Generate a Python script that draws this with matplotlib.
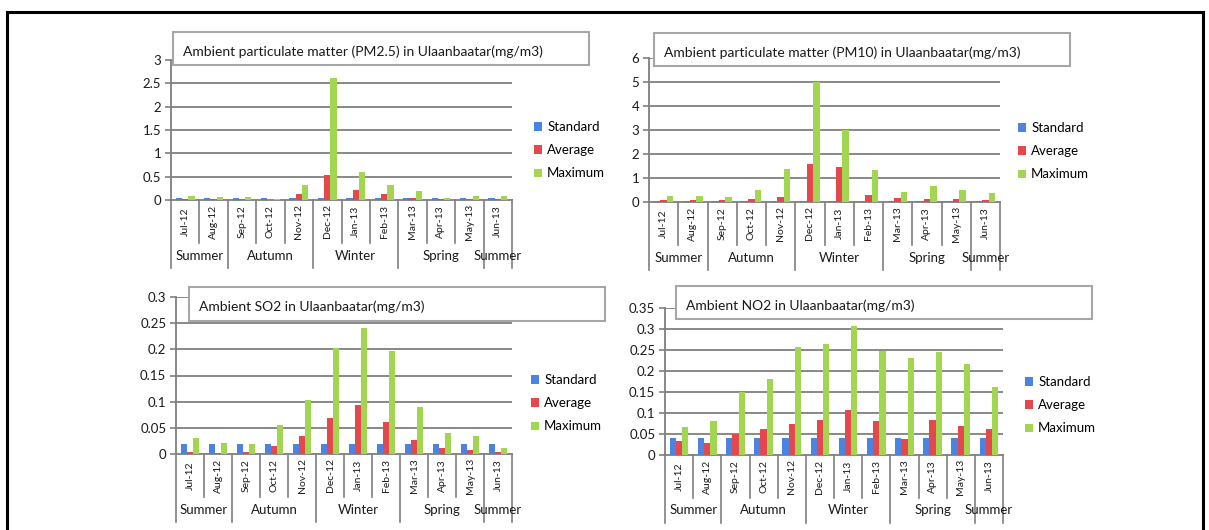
import matplotlib.pyplot as plt
from matplotlib.patches import Rectangle
import matplotlib.transforms as mtransforms

plt.rcParams['font.family'] = ['Lato', 'DejaVu Sans']

months = ['Jul-12', 'Aug-12', 'Sep-12', 'Oct-12', 'Nov-12', 'Dec-12',
          'Jan-13', 'Feb-13', 'Mar-13', 'Apr-13', 'May-13', 'Jun-13']
seasons = ['Summer', 'Autumn', 'Winter', 'Spring', 'Summer']
season_sizes = [2, 3, 3, 3, 1]
series_names = ['Standard', 'Average', 'Maximum']

pm25_std = [0.035] * 12
pm25_avg = [0.03, 0.03, 0.03, 0.01, 0.12, 0.53, 0.22, 0.13, 0.05, 0.02, 0.03, 0.02]
pm25_max = [0.08, 0.06, 0.07, 0.02, 0.32, 2.62, 0.60, 0.33, 0.19, 0.05, 0.08, 0.08]

pm10_std = [0.05] * 12
pm10_avg = [0.07, 0.10, 0.10, 0.13, 0.22, 1.58, 1.45, 0.28, 0.16, 0.13, 0.13, 0.08]
pm10_max = [0.23, 0.23, 0.20, 0.50, 1.38, 5.02, 3.00, 1.35, 0.40, 0.65, 0.52, 0.38]

so2_std = [0.02] * 12
so2_avg = [0.004, 0.002, 0.004, 0.015, 0.035, 0.068, 0.093, 0.062, 0.027, 0.011, 0.007, 0.003]
so2_max = [0.030, 0.021, 0.020, 0.056, 0.104, 0.203, 0.240, 0.196, 0.090, 0.041, 0.035, 0.012]

no2_std = [0.04] * 12
no2_avg = [0.033, 0.029, 0.051, 0.062, 0.075, 0.084, 0.107, 0.082, 0.037, 0.084, 0.070, 0.062]
no2_max = [0.066, 0.080, 0.150, 0.180, 0.256, 0.265, 0.308, 0.247, 0.232, 0.245, 0.217, 0.163]

colors = ['#4a84e0', '#e5484c', '#a2d650']
W, H = 1209, 530


def fig_rect(x0, y0, x1, y1):
    # pixel box (top-left origin) -> figure fraction [left, bottom, width, height]
    return [x0 / W, 1 - y1 / H, (x1 - x0) / W, (y1 - y0) / H]


fig = plt.figure(figsize=(12.09, 5.30), dpi=100)

# outer black frame (bottom edge is cut off in the reference)
fig.patches.append(Rectangle((7 / W, -0.1), (1203 - 7) / W, 1.1 - 12 / H,
                             transform=fig.transFigure, fill=False,
                             edgecolor='black', linewidth=2.2))

panels = [
    dict(axbox=(171, 60, 512, 200), ymax=3, step=0.5,
         title='Ambient particulate matter (PM2.5) in Ulaanbaatar(mg/m3)',
         tbox=(173, 32, 589, 65), leg=(534, 121),
         data=(pm25_std, pm25_avg, pm25_max)),
    dict(axbox=(649, 58, 1000, 202), ymax=6, step=1,
         title='Ambient particulate matter (PM10) in Ulaanbaatar(mg/m3)',
         tbox=(654, 33, 1070, 66), leg=(1018, 122),
         data=(pm10_std, pm10_avg, pm10_max)),
    dict(axbox=(176, 297, 512, 454), ymax=0.3, step=0.05,
         title='Ambient SO2 in Ulaanbaatar(mg/m3)',
         tbox=(189, 287, 605, 321), leg=(531, 374),
         data=(so2_std, so2_avg, so2_max)),
    dict(axbox=(665, 308, 1003, 455), ymax=0.35, step=0.05,
         title='Ambient NO2 in Ulaanbaatar(mg/m3)',
         tbox=(676, 286, 1092, 319), leg=(1025, 376),
         data=(no2_std, no2_avg, no2_max)),
]

x = list(range(len(months)))
bw = 0.22
grid_col = '#7f7f7f'
txt_col = '#1a1a1a'
month_row = 43
season_row = 25

for p in panels:
    ax = fig.add_axes(fig_rect(*p['axbox']))
    for i, vals in enumerate(p['data']):
        ax.bar([xi + (i - 1) * bw for xi in x], vals, width=bw,
               color=colors[i], label=series_names[i], zorder=3)
    ax.set_xlim(-0.5, 11.5)
    ax.set_ylim(0, p['ymax'])
    n = int(round(p['ymax'] / p['step']))
    ticks = [k * p['step'] for k in range(n + 1)]
    ax.set_yticks(ticks)
    ax.set_yticklabels([f'{t:g}' for t in ticks], fontsize=9.5, color=txt_col)
    ax.set_xticks([])
    ax.tick_params(axis='y', length=4, width=1.2, color=grid_col, pad=3)
    for t in ticks[1:]:
        ax.axhline(t, color=grid_col, linewidth=1.3, zorder=1)
    for s in ['top', 'right']:
        ax.spines[s].set_visible(False)
    ax.spines['left'].set_color(grid_col)
    ax.spines['bottom'].set_color(grid_col)
    ax.spines['left'].set_linewidth(1.3)
    ax.spines['bottom'].set_linewidth(1.3)

    # two-level category axis drawn below the plot
    trans = mtransforms.blended_transform_factory(ax.transData, ax.transAxes)
    ax_h = p['axbox'][3] - p['axbox'][1]
    row1 = -month_row / ax_h
    row2 = -(month_row + season_row) / ax_h
    bounds = [-0.5]
    acc = -0.5
    for s in season_sizes:
        acc += s
        bounds.append(acc)
    for k in range(len(months) + 1):
        xb = k - 0.5
        y_end = row2 if xb in bounds else row1
        ax.plot([xb, xb], [0, y_end], transform=trans, color=grid_col,
                linewidth=1.2, clip_on=False)
    for xi, m in zip(x, months):
        ax.text(xi, row1 / 2, m, transform=trans, rotation=90, ha='center',
                va='center', fontsize=7.5, color=txt_col)
    start = -0.5
    for s, size in zip(seasons, season_sizes):
        ax.text(start + size / 2, (row1 + row2) / 2, s, transform=trans,
                ha='center', va='center', fontsize=9.5, color=txt_col)
        start += size

    # title box
    tx0, ty0, tx1, ty1 = p['tbox']
    fig.patches.append(Rectangle((tx0 / W, 1 - ty1 / H), (tx1 - tx0) / W, (ty1 - ty0) / H,
                                 transform=fig.transFigure, facecolor='white',
                                 edgecolor='#a6a6a6', linewidth=1.5, zorder=5))
    fig.text((tx0 + 10) / W, 1 - (ty0 + ty1) / 2 / H - 3 / H, p['title'],
             ha='left', va='center', fontsize=10, color=txt_col, zorder=6)

    lx, ly = p['leg']
    ax.legend(loc='upper left', bbox_to_anchor=(lx / W, 1 - ly / H),
              bbox_transform=fig.transFigure, frameon=False, fontsize=9.5,
              handlelength=0.6, handleheight=0.6, handletextpad=0.4,
              labelspacing=0.85, borderpad=0, borderaxespad=0)

fig.savefig('out.png', dpi=100)
